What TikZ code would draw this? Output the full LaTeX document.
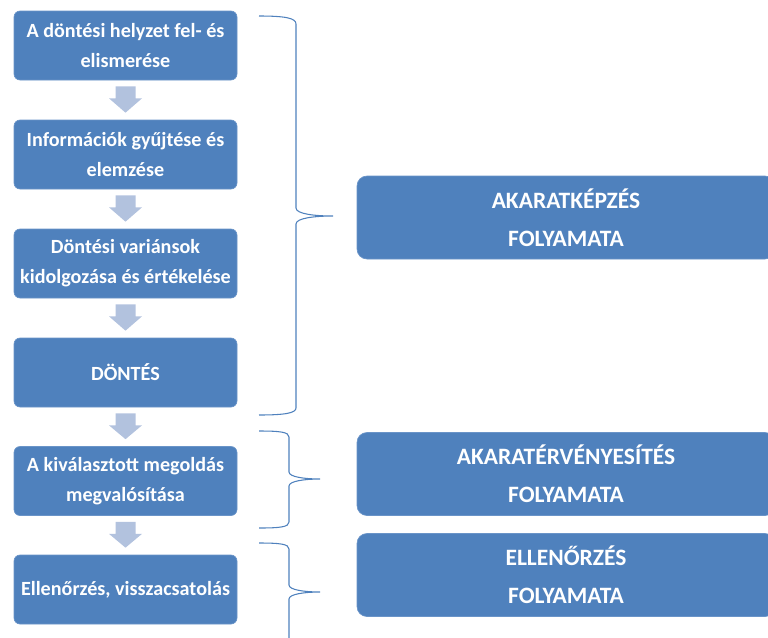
\documentclass[tikz,border=0pt]{standalone}
\usepackage{fontspec}
\setmainfont{Carlito}
\usetikzlibrary{calc}
\definecolor{boxblue}{HTML}{4F81BD}
\definecolor{boxrim}{HTML}{6A94C8}
\definecolor{flowarrow}{HTML}{B2C2DE}
\definecolor{bracecol}{HTML}{4F81BD}
\tikzset{
  stepbox/.style={rectangle, rounded corners=4.5pt, fill=boxblue, draw=boxrim,
    line width=0.5pt, minimum width=167.25pt, minimum height=51.75pt,
    text=white, font=\fontsize{15.1}{22.5}\selectfont\bfseries, align=center,
    inner sep=0pt},
  phasebox/.style={rectangle, rounded corners=7.5pt, fill=boxblue, draw=boxrim,
    line width=0.5pt, minimum width=313.5pt, minimum height=62.25pt,
    text=white, font=\fontsize{17.6}{28.5}\selectfont\bfseries, align=center,
    inner sep=0pt},
  bracket/.style={draw=bracecol, line width=0.8pt},
  downarrow/.style={fill=flowarrow, draw=none},
}
\begin{document}
\begin{tikzpicture}[x=0.75pt, y=-0.75pt]
\useasboundingbox (0,0) rectangle (768,637);

% process steps
\node[stepbox] (s1) at (125.5,45.5) {A döntési helyzet fel- és\\elismerése};
\node[stepbox] (s2) at (125.5,154.5) {Információk gyűjtése és\\elemzése};
\node[stepbox] (s3) at (125.5,263.5) {Döntési variánsok\\kidolgozása és értékelése};
\node[stepbox] (s4) at (125.5,372.5) {DÖNTÉS};
\node[stepbox] (s5) at (125.5,481) {A kiválasztott megoldás\\megvalósítása};
\node[stepbox] (s6) at (125.5,589.5) {Ellenőrzés, visszacsatolás};

% block arrows between consecutive steps
\foreach \a/\b in {s1/s2, s2/s3, s3/s4, s4/s5, s5/s6} {
  \path[downarrow]
    ($(\a.south)+(-10,6)$) -- ($(\a.south)+(10,6)$) -- ($(\a.south)+(10,18)$)
    -- ($(\a.south)+(16.5,18)$) -- ($(\b.north)+(0,-7)$)
    -- ($(\a.south)+(-16.5,18)$) -- ($(\a.south)+(-10,18)$) -- cycle;
}

% phase boxes
\node[phasebox] (p1) at (566,217.5) {AKARATKÉPZÉS\\FOLYAMATA};
\node[phasebox] (p2) at (566,474) {AKARATÉRVÉNYESÍTÉS\\FOLYAMATA};
\node[phasebox] (p3) at (566,575) {ELLENŐRZÉS\\FOLYAMATA};

% curly brackets grouping the steps
\coordinate (b1top) at (259,16);
\coordinate (b1tip) at (333,216);
\coordinate (b1bot) at (259,415);
\draw[bracket] (b1top) .. controls (285,16) and (296,18) .. (296,24)
  -- (296,208) .. controls (296,214) and (315,216) .. (b1tip)
  .. controls (315,216) and (296,218) .. (296,224)
  -- (296,408) .. controls (296,413) and (285,415) .. (b1bot);

\coordinate (b2top) at (259,431);
\coordinate (b2tip) at (320,479);
\coordinate (b2bot) at (259,528);
\draw[bracket] (b2top) .. controls (280,431) and (289,432) .. (289,437)
  -- (289,472) .. controls (289,477) and (305,479) .. (b2tip)
  .. controls (305,479) and (289,481) .. (289,486)
  -- (289,522) .. controls (289,527) and (280,528) .. (b2bot);

\coordinate (b3top) at (259,543);
\coordinate (b3tip) at (320,592);
\coordinate (b3bot) at (289,645);
\draw[bracket] (b3top) .. controls (280,543) and (289,544) .. (289,549)
  -- (289,585) .. controls (289,590) and (305,592) .. (b3tip)
  .. controls (305,592) and (289,594) .. (289,599)
  -- (b3bot);
\end{tikzpicture}
\end{document}
